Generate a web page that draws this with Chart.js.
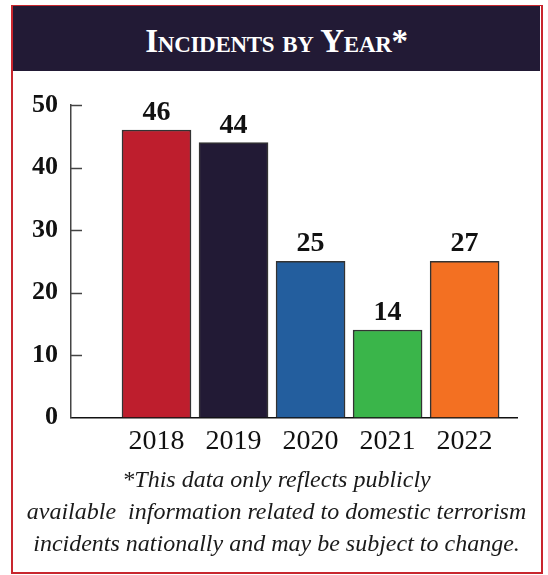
<!DOCTYPE html>
<html>
<head>
<meta charset="utf-8">
<script src="https://cdn.jsdelivr.net/npm/chart.js@4/dist/chart.umd.min.js"></script>
<style>
  html, body { margin: 0; padding: 0; background: #fff; }
  body { width: 548px; height: 575px; position: relative; overflow: hidden; }
  #frame { position: absolute; left: 11px; top: 5px; width: 528px; height: 566px;
           border: 2px solid #c8262e; border-top-width: 1px; }
  #header { position: absolute; left: 13px; top: 6px; width: 527px; height: 65px;
            background: #221a35; color: #fff; text-align: center;
            font: bold 33px "Liberation Serif", serif; font-variant: small-caps;
            line-height: 71px; letter-spacing: -0.3px; }
  #note { position: absolute; left: 13px; top: 463px; width: 527px; text-align: center;
          font: italic 24px "Liberation Serif", serif; line-height: 32px; color: #1a1a1a; }
  #chart { position: absolute; left: 0; top: 0; }
</style>
</head>
<body>
<div id="frame"></div>
<div id="header">Incidents by Year*</div>
<canvas id="chart" width="548" height="575"></canvas>
<div id="note">*This data only reflects publicly<br>available&nbsp; information related to domestic terrorism<br>incidents nationally and may be subject to change.</div>
<script>
var years = ['2018', '2019', '2020', '2021', '2022'];
var incidents = [46, 44, 25, 14, 25];
var incidentLabels = ['46', '44', '25', '14', '27'];
var barColors = ['#be1e2d', '#221a35', '#235e9e', '#3ab54a', '#f37022'];
var yTicks = [0, 10, 20, 30, 40, 50];

var serif = '"Liberation Serif", "Times New Roman", serif';

// small ticks pointing into the plot + value labels over the bars
var extras = {
    id: 'extras',
    afterDraw: function (chart) {
        var ctx = chart.ctx;
        var y = chart.scales.y;
        var left = chart.chartArea.left;
        ctx.save();
        ctx.strokeStyle = '#444';
        ctx.lineWidth = 1.5;
        yTicks.forEach(function (v) {
            var py = Math.round(y.getPixelForValue(v)) + 0.5;
            if (v === 0) return;
            ctx.beginPath();
            ctx.moveTo(left, py);
            ctx.lineTo(left + 11, py);
            ctx.stroke();
        });
        ctx.fillStyle = '#111';
        ctx.font = 'bold 28px ' + serif;
        ctx.textAlign = 'center';
        ctx.textBaseline = 'alphabetic';
        chart.getDatasetMeta(0).data.forEach(function (bar, i) {
            ctx.fillText(incidentLabels[i], bar.x, bar.y - 10);
        });
        ctx.restore();
    }
};

var ctx = document.getElementById('chart');
new Chart(ctx, {
    type: 'bar',
    data: {
        datasets: [{
            data: incidents.map(function (v, i) { return { x: i, y: v }; }),
            backgroundColor: barColors,
            borderColor: '#333',
            borderWidth: 1.5,
            barThickness: 69
        }]
    },
    options: {
        responsive: false,
        animation: false,
        layout: { padding: { top: 105, right: 31, left: 0, bottom: 0 } },
        plugins: { legend: { display: false }, tooltip: { enabled: false } },
        scales: {
            x: {
                type: 'linear',
                offset: false,
                min: -1.11,
                max: 4.68,
                afterFit: function (s) { s.height = 575 - 417.5; },
                afterBuildTicks: function (s) {
                    s.ticks = years.map(function (y, i) { return { value: i }; });
                },
                grid: { display: false, drawTicks: false, offset: false },
                border: { display: true, color: '#111', width: 1.5 },
                ticks: {
                    padding: 7,
                    color: '#111',
                    font: { family: serif, size: 28 },
                    callback: function (v) { return years[v]; }
                }
            },
            y: {
                min: 0,
                max: 50,
                afterFit: function (s) { s.width = 71; },
                afterBuildTicks: function (s) {
                    s.ticks = yTicks.map(function (v) { return { value: v }; });
                },
                grid: { display: false, drawTicks: false },
                border: { display: true, color: '#444', width: 1.5 },
                ticks: {
                    padding: 13,
                    color: '#111',
                    font: { family: serif, size: 26, weight: 'bold' }
                }
            }
        }
    },
    plugins: [extras]
});
</script>
</body>
</html>
